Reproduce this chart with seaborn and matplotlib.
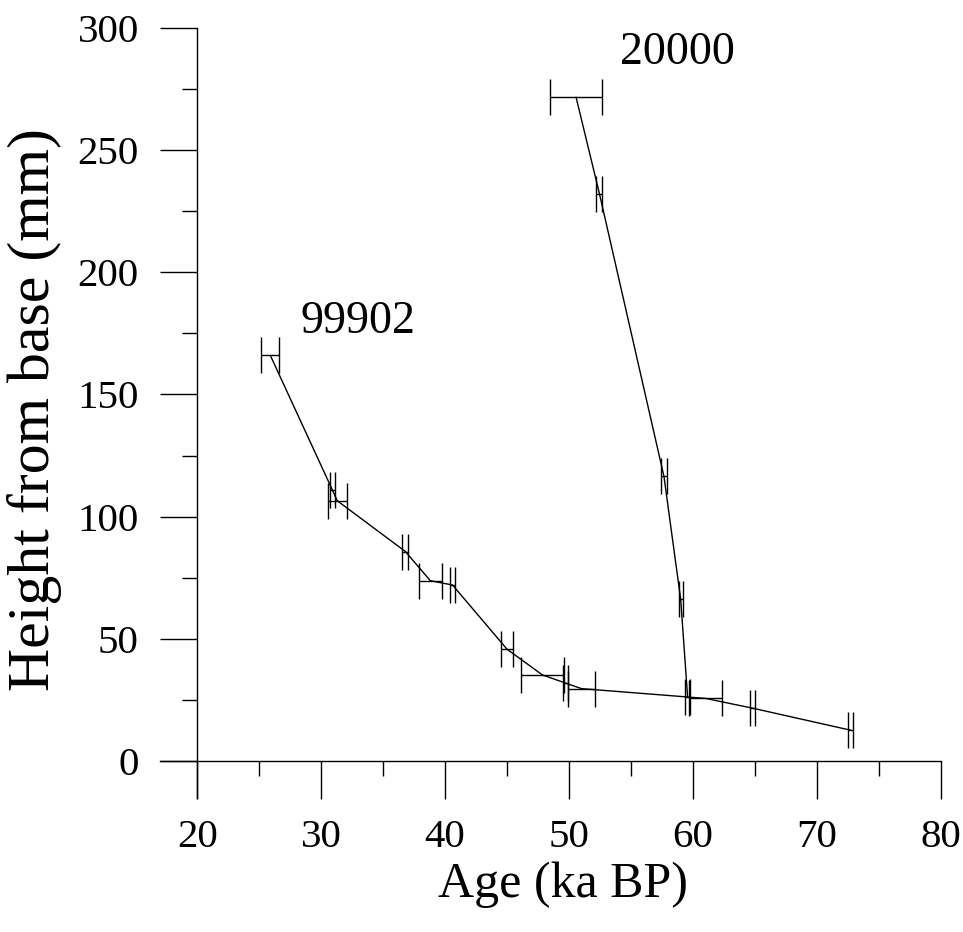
import matplotlib
matplotlib.use("Agg")
import matplotlib.pyplot as plt
import seaborn as sns
import numpy as np
import pandas as pd

# ---- data ----
age_99902 = [25.9, 30.9, 31.3, 36.8, 38.8, 40.6, 45.0, 47.85, 49.7, 51.0, 61.0, 64.8, 72.7]
height_99902 = [166.0, 111.0, 106.5, 85.7, 73.8, 72.0, 45.7, 35.2, 31.9, 29.6, 25.6, 21.6, 12.6]
xerr_99902 = [0.73, 0.2, 0.75, 0.24, 0.94, 0.2, 0.46, 1.7, 0.2, 1.07, 1.3, 0.23, 0.23]

age_20000 = [50.56, 52.45, 57.65, 59.0, 59.56]
height_20000 = [271.7, 232.1, 116.5, 66.2, 26.1]
xerr_20000 = [2.12, 0.24, 0.24, 0.15, 0.2]

series_names = ["99902", "20000"]
label_pos = {"99902": (28.3, 179.7), "20000": (54.1, 290.0)}

x_major = [20, 30, 40, 50, 60, 70, 80]
x_minor = [25, 35, 45, 55, 65, 75]
y_major = [0, 50, 100, 150, 200, 250, 300]
y_minor = [25, 75, 125, 175, 225, 275]

# ---- build table ----
df = pd.concat([
    pd.DataFrame({"series": "99902", "age": age_99902, "height": height_99902, "xerr": xerr_99902}),
    pd.DataFrame({"series": "20000", "age": age_20000, "height": height_20000, "xerr": xerr_20000}),
], ignore_index=True)

sns.set_theme(style="ticks")
plt.rcParams["font.family"] = ["Liberation Serif", "DejaVu Serif"]

fig = plt.figure(figsize=(9.63, 9.32), dpi=100)
ax = fig.add_axes([0.1661, 0.1442, 0.8111, 0.8258])

sns.lineplot(data=df, x="age", y="height", units="series", estimator=None,
             sort=False, color="black", lw=1.0, ax=ax, legend=False)

for name in series_names:
    d = df[df["series"] == name]
    ax.errorbar(d["age"], d["height"], xerr=d["xerr"], fmt="none",
                ecolor="black", elinewidth=1.0, capsize=13, capthick=1.0)
    lx, ly = label_pos[name]
    ax.text(lx, ly, name, fontsize=33, va="center", ha="left", color="black")

ax.set_xlim(17, 80)
ax.set_ylim(-15, 300)
ax.spines["left"].set_position(("data", 20))
ax.spines["bottom"].set_position(("data", 0))
ax.spines["top"].set_visible(False)
ax.spines["right"].set_visible(False)
for s in ("left", "bottom"):
    ax.spines[s].set_linewidth(1.0)
    ax.spines[s].set_color("black")

ax.set_xticks(x_major)
ax.set_xticks(x_minor, minor=True)
ax.set_yticks(y_major)
ax.set_yticks(y_minor, minor=True)
ax.tick_params(axis="both", which="major", length=27, width=1.0, color="black",
               labelsize=29.5, labelcolor="black", direction="out")
ax.tick_params(axis="both", which="minor", length=11, width=1.0, color="black", direction="out")
ax.tick_params(axis="x", which="major", pad=15)
ax.tick_params(axis="y", which="major", pad=15)

ax.set_xlabel("Age (ka BP)", fontsize=36, color="black")
ax.set_ylabel("Height from base (mm)", fontsize=43, color="black")
ax.xaxis.set_label_coords(0.516, -0.1136)
ax.xaxis.label.set_va("center")
ax.yaxis.set_label_coords(-0.160, 0.5036)
ax.yaxis.label.set_va("center")

ax.set_facecolor("white")
fig.patch.set_facecolor("white")
fig.savefig("out.png", dpi=100)
